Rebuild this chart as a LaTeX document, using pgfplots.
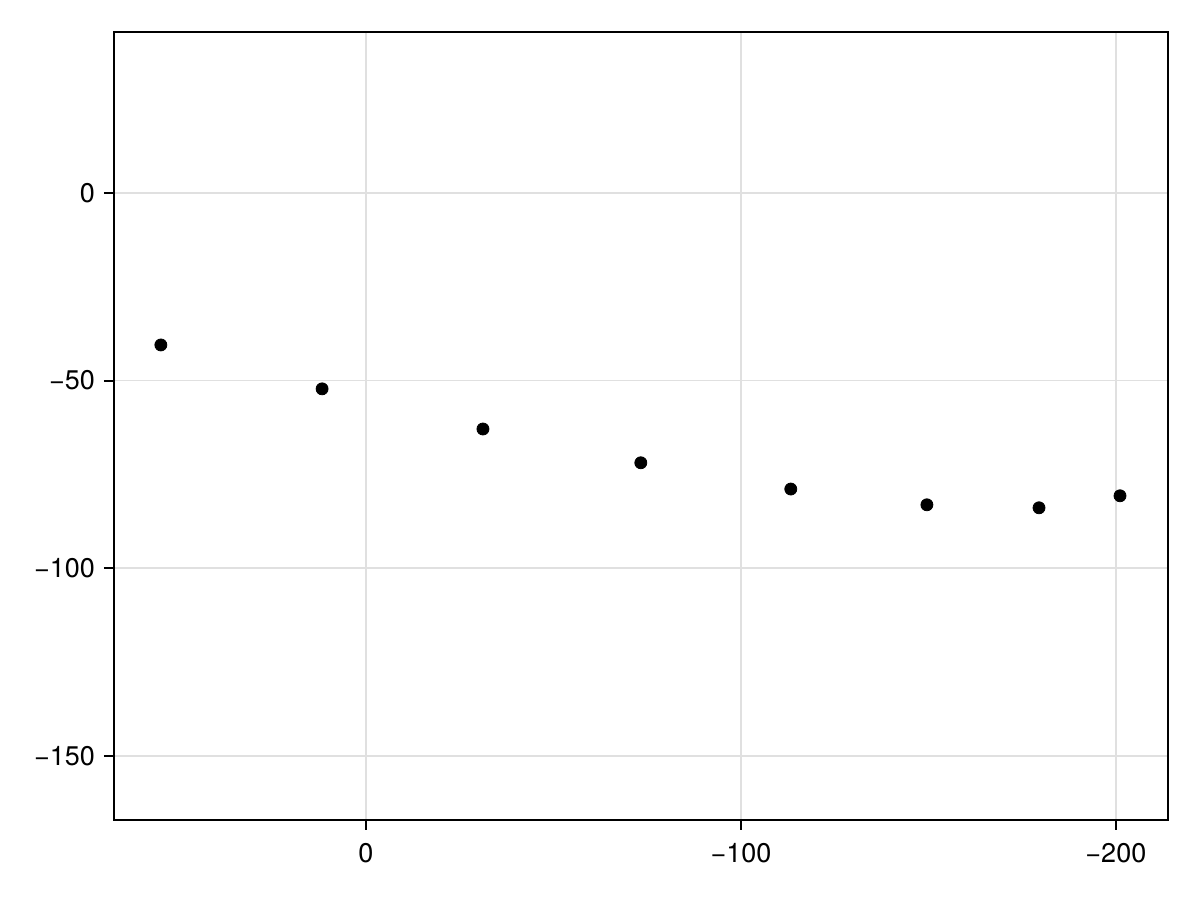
\documentclass[border=0pt]{standalone}
\usepackage{pgfplots}
\pgfplotsset{compat=1.18}
\usepackage{fontspec}
\setmainfont{TeX Gyre Heros}

\begin{document}
\begin{tikzpicture}
	\path[use as bounding box] (0,0) rectangle (600pt,450pt);
	\begin{axis}[
		at={(57pt,40pt)}, anchor=south west,
		scale only axis,
		width=527pt, height=394pt,
		x dir=reverse,
		xmin=-213.9, xmax=67.2,
		ymin=-167.1, ymax=42.9,
		xtick={0,-100,-200},
		xticklabels={0,−100,−200},
		ytick={0,-50,-100,-150},
		yticklabels={0,−50,−100,−150},
		xtick pos=lower, ytick pos=left,
		tick align=outside,
		major tick length=5pt,
		tick style={line width=1pt, black},
		axis line style={line width=1pt},
		grid=major,
		grid style={line width=0.8pt, black!12},
		ticklabel style={font=\fontsize{13.5}{16}\selectfont},
		xticklabel style={yshift=-3pt},
		yticklabel style={xshift=-1pt},
		clip=false,
	]
		\addplot[only marks, mark=*, mark size=3pt, black] coordinates {
			(54.7, -40.5)
			(11.7, -52.2)
			(-31.2, -62.9)
			(-73.3, -71.9)
			(-113.3, -78.9)
			(-149.6, -83.1)
			(-179.5, -83.9)
			(-201.1, -80.7)
		};
	\end{axis}
\end{tikzpicture}
\end{document}
